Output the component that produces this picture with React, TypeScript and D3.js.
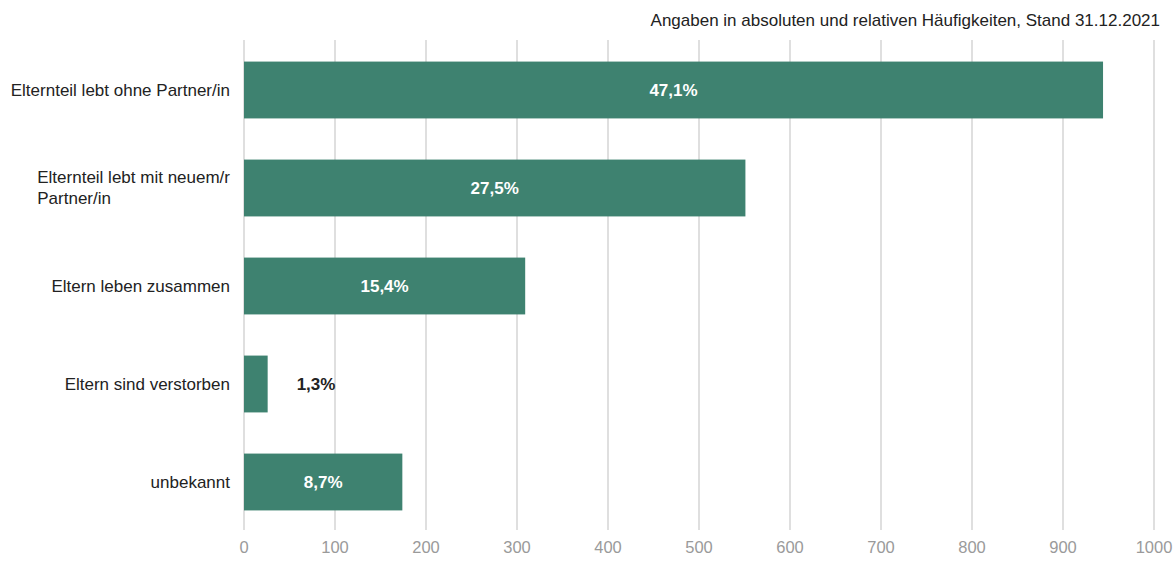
import * as React from 'react'
import * as d3 from 'd3'

const categories = [
  ['Elternteil lebt ohne Partner/in'],
  ['Elternteil lebt mit neuem/r', 'Partner/in'],
  ['Eltern leben zusammen'],
  ['Eltern sind verstorben'],
  ['unbekannt'],
]
const counts = [944, 551, 309, 26, 174]
const percentLabels = ['47,1%', '27,5%', '15,4%', '1,3%', '8,7%']
const xTicks = [0, 100, 200, 300, 400, 500, 600, 700, 800, 900, 1000]
const title = 'Angaben in absoluten und relativen Häufigkeiten, Stand 31.12.2021'

const width = 1174
const height = 561
const barColor = '#3e8270'
const font = '"Liberation Sans", Arial, Helvetica, sans-serif'

export default function App() {
  const ref = React.useRef<SVGSVGElement>(null)

  React.useEffect(() => {
    document.body.style.margin = '0'
    const svg = d3.select(ref.current)
    svg.selectAll('*').remove()

    const x = d3.scaleLinear().domain([0, 1000]).range([244, 1154])
    const y = d3
      .scaleBand<number>()
      .domain(d3.range(counts.length))
      .range([41, 531])
      .paddingInner(0.42)
      .paddingOuter(0.21)

    // title
    svg
      .append('text')
      .attr('x', 1160)
      .attr('y', 26)
      .attr('text-anchor', 'end')
      .attr('font-family', font)
      .attr('font-size', 17)
      .attr('fill', '#222')
      .text(title)

    // grid
    const grid = svg.append('g')
    grid
      .selectAll('line')
      .data(xTicks)
      .enter()
      .append('line')
      .attr('x1', (d) => x(d))
      .attr('x2', (d) => x(d))
      .attr('y1', 40)
      .attr('y2', 530)
      .attr('stroke', '#d4d4d4')
      .attr('stroke-width', 1.5)

    grid
      .selectAll('text')
      .data(xTicks)
      .enter()
      .append('text')
      .attr('x', (d) => x(d))
      .attr('y', 553)
      .attr('text-anchor', 'middle')
      .attr('font-family', font)
      .attr('font-size', 16.5)
      .attr('fill', '#9a9a9a')
      .text((d) => d)

    // bars
    svg
      .append('g')
      .selectAll('rect')
      .data(counts)
      .enter()
      .append('rect')
      .attr('x', x(0))
      .attr('y', (d, i) => y(i) as number)
      .attr('width', (d) => x(d) - x(0))
      .attr('height', y.bandwidth())
      .attr('fill', barColor)

    // value labels
    svg
      .append('g')
      .selectAll('text')
      .data(counts)
      .enter()
      .append('text')
      .attr('x', (d) => (d > 100 ? (x(0) + x(d)) / 2 : x(d) + 29))
      .attr('y', (d, i) => (y(i) as number) + y.bandwidth() / 2)
      .attr('dy', '0.35em')
      .attr('text-anchor', (d) => (d > 100 ? 'middle' : 'start'))
      .attr('font-family', font)
      .attr('font-size', 17)
      .attr('font-weight', 'bold')
      .attr('fill', (d) => (d > 100 ? '#fff' : '#222'))
      .text((d, i) => percentLabels[i])

    // category labels
    const labelRight = 230
    const cats = svg.append('g')
    categories.forEach((lines, i) => {
      const cy = (y(i) as number) + y.bandwidth() / 2
      const lineH = 21
      const t = cats
        .append('text')
        .attr('font-family', font)
        .attr('font-size', 17)
        .attr('fill', '#222')
      const spans = lines.map((line, j) =>
        t
          .append('tspan')
          .attr('x', labelRight)
          .attr('y', cy + (j - (lines.length - 1) / 2) * lineH)
          .attr('dy', '0.35em')
          .attr('text-anchor', 'end')
          .text(line)
      )
      if (lines.length > 1) {
        // left align wrapped lines to the widest one
        const widths = spans.map((s) => (s.node() as SVGTSpanElement).getComputedTextLength())
        const maxW = d3.max(widths) as number
        spans.forEach((s) => s.attr('text-anchor', 'start').attr('x', labelRight - maxW))
      }
    })
  }, [])

  return <svg ref={ref} width={width} height={height} style={{ display: 'block', background: '#fff' }} />
}
